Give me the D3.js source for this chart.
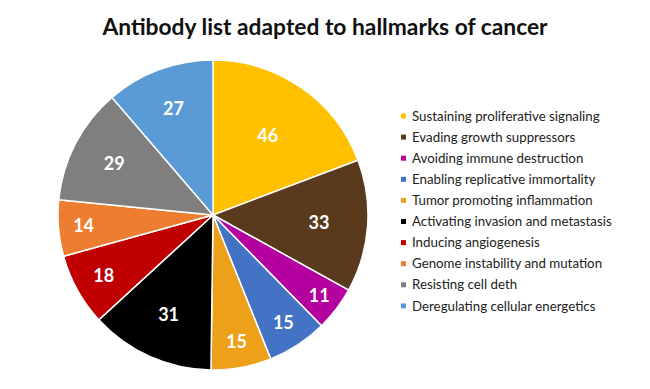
<!DOCTYPE html>
<html>
<head>
<meta charset="utf-8">
<script src="https://cdn.jsdelivr.net/npm/d3@7"></script>
<style>
  body { margin: 0; background: #fff; }
  svg { display: block; }
</style>
</head>
<body>
<svg id="chart" width="650" height="389"></svg>
<script>
const categories = [
    "Sustaining proliferative signaling",
    "Evading growth suppressors",
    "Avoiding immune destruction",
    "Enabling replicative immortality",
    "Tumor promoting inflammation",
    "Activating invasion and metastasis",
    "Inducing angiogenesis",
    "Genome instability and mutation",
    "Resisting cell deth",
    "Deregulating cellular energetics"
];
const values = [46, 33, 11, 15, 15, 31, 18, 14, 29, 27];
const colors = ["#FFC000", "#5A3A1C", "#B4009E", "#4472C4", "#EDA01A",
                "#000000", "#C00000", "#ED7D31", "#7F7F7F", "#5B9BD5"];

const svg = d3.select("#chart");
const cx = 213, cy = 215, r = 155;

svg.append("text")
    .attr("x", 325)
    .attr("y", 35)
    .attr("text-anchor", "middle")
    .style("font-family", "Lato, sans-serif")
    .style("font-weight", "bold")
    .style("font-size", "22.8px")
    .attr("fill", "#111")
    .text("Antibody list adapted to hallmarks of cancer");

const pie = d3.pie().sort(null).value(d => d);
const arcs = pie(values);
const arc = d3.arc().innerRadius(0).outerRadius(r);

const g = svg.append("g").attr("transform", `translate(${cx},${cy})`);

g.selectAll("path")
    .data(arcs)
    .enter()
    .append("path")
    .attr("d", arc)
    .attr("fill", (d, i) => colors[i])
    .attr("stroke", "#fff")
    .attr("stroke-width", 1.5);

// narrow slices get their label pushed further out, roughly like Excel's best fit
g.selectAll("text.lbl")
    .data(arcs)
    .enter()
    .append("text")
    .attr("class", "lbl")
    .attr("transform", d => {
        const k = Math.max(0.62, 0.95 - d.data * 0.008);
        const a = (d.startAngle + d.endAngle) / 2;
        return `translate(${Math.sin(a) * r * k},${-Math.cos(a) * r * k})`;
    })
    .attr("text-anchor", "middle")
    .attr("dy", "0.35em")
    .style("font-family", "Lato, sans-serif")
    .style("font-weight", "bold")
    .style("font-size", "18px")
    .attr("fill", "#fff")
    .text(d => d.data);

const legend = svg.append("g").attr("transform", "translate(401,116)");
const rowH = 21.1;
const item = legend.selectAll("g")
    .data(categories)
    .enter()
    .append("g")
    .attr("transform", (d, i) => `translate(0,${i * rowH})`);

item.append("rect")
    .attr("x", 0)
    .attr("y", -2.5)
    .attr("width", 5)
    .attr("height", 5)
    .attr("fill", (d, i) => colors[i]);

item.append("text")
    .attr("x", 11)
    .attr("dy", "0.35em")
    .style("font-family", "Lato, sans-serif")
    .style("font-size", "13.3px")
    .attr("fill", "#222")
    .text(d => d);
</script>
</body>
</html>
